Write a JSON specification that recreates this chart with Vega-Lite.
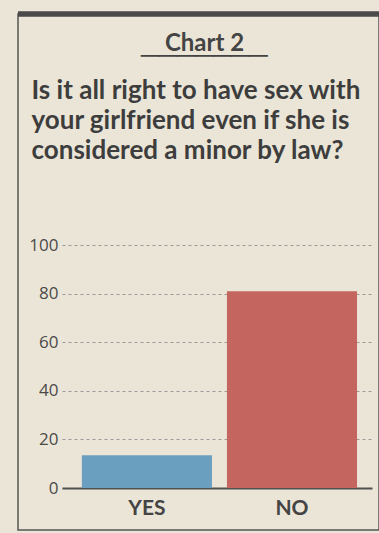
{
  "$schema": "https://vega.github.io/schema/vega-lite/v6.json",
  "width": 361,
  "height": 516,
  "autosize": {"type": "none"},
  "padding": {"left": 18, "top": 14, "right": 0, "bottom": 3},
  "background": "#ebe5d7",
  "config": {
    "view": {"stroke": "#555555", "strokeWidth": 1.5},
    "font": "Lato"
  },
  "title": {
    "text": ["Is it all right to have sex with", "your girlfriend even if she is", "considered a minor by law?"],
    "anchor": "start",
    "orient": "top",
    "offset": -152,
    "dx": 16,
    "font": "Lato",
    "fontSize": 26,
    "fontWeight": "bold",
    "lineHeight": 30,
    "color": "#3d3d3d",
    "limit": 0
  },
  "data": {
    "values": [
      {"answer": "YES", "percent": 13.5},
      {"answer": "NO", "percent": 81}
    ]
  },
  "layer": [
    {
      "mark": {"type": "bar"},
      "encoding": {
        "x": {
          "field": "answer",
          "type": "nominal",
          "sort": ["YES", "NO"],
          "scale": {"range": [44, 354], "paddingInner": 0.1034, "paddingOuter": 0.12, "align": 0.57},
          "axis": {
            "orient": "bottom",
            "offset": -42,
            "title": null,
            "domain": true,
            "domainColor": "#505050",
            "domainWidth": 2,
            "ticks": false,
            "labelAngle": 0,
            "labelFont": "Lato",
            "labelFontSize": 21,
            "labelFontWeight": "bold",
            "labelColor": "#444444",
            "labelPadding": 9,
            "grid": false
          }
        },
        "y": {
          "field": "percent",
          "type": "quantitative",
          "scale": {"domain": [-17.28, 195.06], "nice": false, "zero": false},
          "axis": {
            "orient": "left",
            "values": [0, 20, 40, 60, 80, 100],
            "domain": false,
            "ticks": false,
            "labelPadding": -40,
            "labelFont": "Open Sans",
            "labelFontSize": 17,
            "labelColor": "#4a4a4a",
            "grid": true,
            "gridDash": [3, 3],
            "gridColor": "#9a9a9a",
            "gridWidth": 1,
            "title": ["Chart 2", "\u2500\u2500\u2500\u2500\u2500\u2500\u2500"],
            "titleAngle": 0,
            "titleX": 186,
            "titleY": 36,
            "titleAlign": "center",
            "titleBaseline": "alphabetic",
            "titleLineHeight": 12,
            "titleFont": "Lato, DejaVu Sans",
            "titleFontSize": 24,
            "titleFontWeight": "bold",
            "titleColor": "#444444"
          }
        },
        "y2": {"datum": 0},
        "color": {
          "field": "answer",
          "type": "nominal",
          "scale": {"domain": ["YES", "NO"], "range": ["#6a9fc0", "#c4655f"]},
          "legend": null
        }
      }
    },
    {
      "mark": {"type": "rule", "color": "#4a4a4a", "strokeWidth": 5},
      "encoding": {"y": {"datum": 195.06}}
    }
  ]
}
